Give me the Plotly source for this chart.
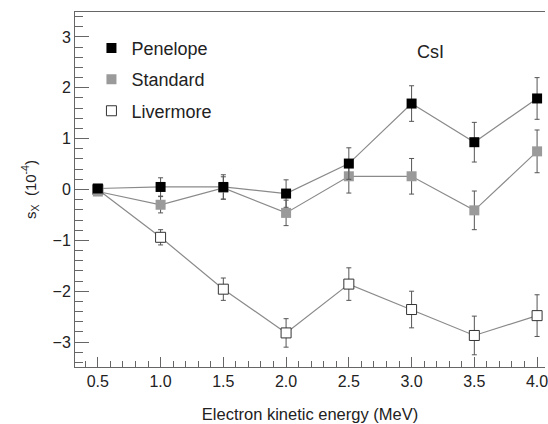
import plotly.graph_objects as go

energy = [0.5, 1.0, 1.5, 2.0, 2.5, 3.0, 3.5, 4.0]

penelope = [0.02, 0.05, 0.05, -0.08, 0.51, 1.69, 0.93, 1.79]
penelope_err = [0.0, 0.18, 0.24, 0.27, 0.31, 0.35, 0.39, 0.41]

standard = [-0.04, -0.30, 0.03, -0.46, 0.26, 0.26, -0.41, 0.75]
standard_err = [0.0, 0.16, 0.22, 0.25, 0.33, 0.35, 0.38, 0.42]

livermore = [0.0, -0.94, -1.96, -2.82, -1.86, -2.36, -2.87, -2.48]
livermore_err = [0.0, 0.15, 0.22, 0.28, 0.32, 0.36, 0.38, 0.41]

FONT = "Liberation Sans, Arial, sans-serif"
LINE = "#8a8a8a"
ERR = "#555555"
AXC = "#666666"

series = [
    ("Livermore", livermore, livermore_err, dict(symbol="square", color="white", size=10,
                                                   line=dict(color="#333333", width=1))),
    ("Standard", standard, standard_err, dict(symbol="square", color="#9a9a9a", size=10,
                                                line=dict(color="#9a9a9a", width=0))),
    ("Penelope", penelope, penelope_err, dict(symbol="square", color="black", size=10,
                                                line=dict(color="black", width=0))),
]

fig = go.Figure()
for name, ys, errs, mk in series:
    fig.add_trace(go.Scatter(
        x=energy, y=ys, mode="lines+markers", name=name, showlegend=False,
        line=dict(color=LINE, width=1.2),
        marker=mk,
        error_y=dict(type="data", array=errs, visible=True, color=ERR, thickness=1, width=2.5),
    ))

# legend-only entries (markers only), in reference order
for name, ys, errs, mk in reversed(series):
    fig.add_trace(go.Scatter(
        x=[None], y=[None], mode="markers", name=name, showlegend=True,
        legendgroup=name, marker=mk,
    ))

fig.add_annotation(x=3.15, y=2.70, xref="x", yref="y", text="CsI", showarrow=False,
                   font=dict(family=FONT, size=18, color="#222222"))

fig.update_layout(
    width=548, height=424,
    margin=dict(l=75, r=0, t=12, b=57),
    paper_bgcolor="white", plot_bgcolor="white",
    font=dict(family=FONT, size=16, color="#222222"),
    showlegend=True,
    legend=dict(x=0.035, y=0.95, xanchor="left", yanchor="top",
                font=dict(family=FONT, size=18, color="#222222"),
                bgcolor="rgba(0,0,0,0)", tracegroupgap=5, itemwidth=30),
    xaxis=dict(
        range=[0.318, 4.063], tick0=0.5, dtick=0.5, tickformat=".1f",
        ticks="inside", ticklen=10, tickwidth=1, tickcolor=AXC,
        showline=True, linecolor=AXC, linewidth=1, mirror=True,
        gridcolor="white", zerolinecolor="white", ticklabeloverflow="allow",
        minor=dict(dtick=0.1, ticks="inside", ticklen=6, tickwidth=1, tickcolor=AXC),
        title=dict(text="Electron kinetic energy (MeV)", font=dict(family=FONT, size=16.5, color="#222222"),
                   standoff=19),
    ),
    yaxis=dict(
        range=[-3.49, 3.49], tick0=0, dtick=1,
        ticks="inside", ticklen=14, tickwidth=1, tickcolor=AXC,
        showline=True, linecolor=AXC, linewidth=1,
        gridcolor="white", zerolinecolor="white",
        minor=dict(dtick=0.2, ticks="inside", ticklen=8, tickwidth=1, tickcolor=AXC),
        title=dict(text="s<sub>X</sub>  (10<sup>-4</sup>)", font=dict(family=FONT, size=15, color="#222222"),
                   standoff=12),
    ),
)

fig.write_html("out.html")
